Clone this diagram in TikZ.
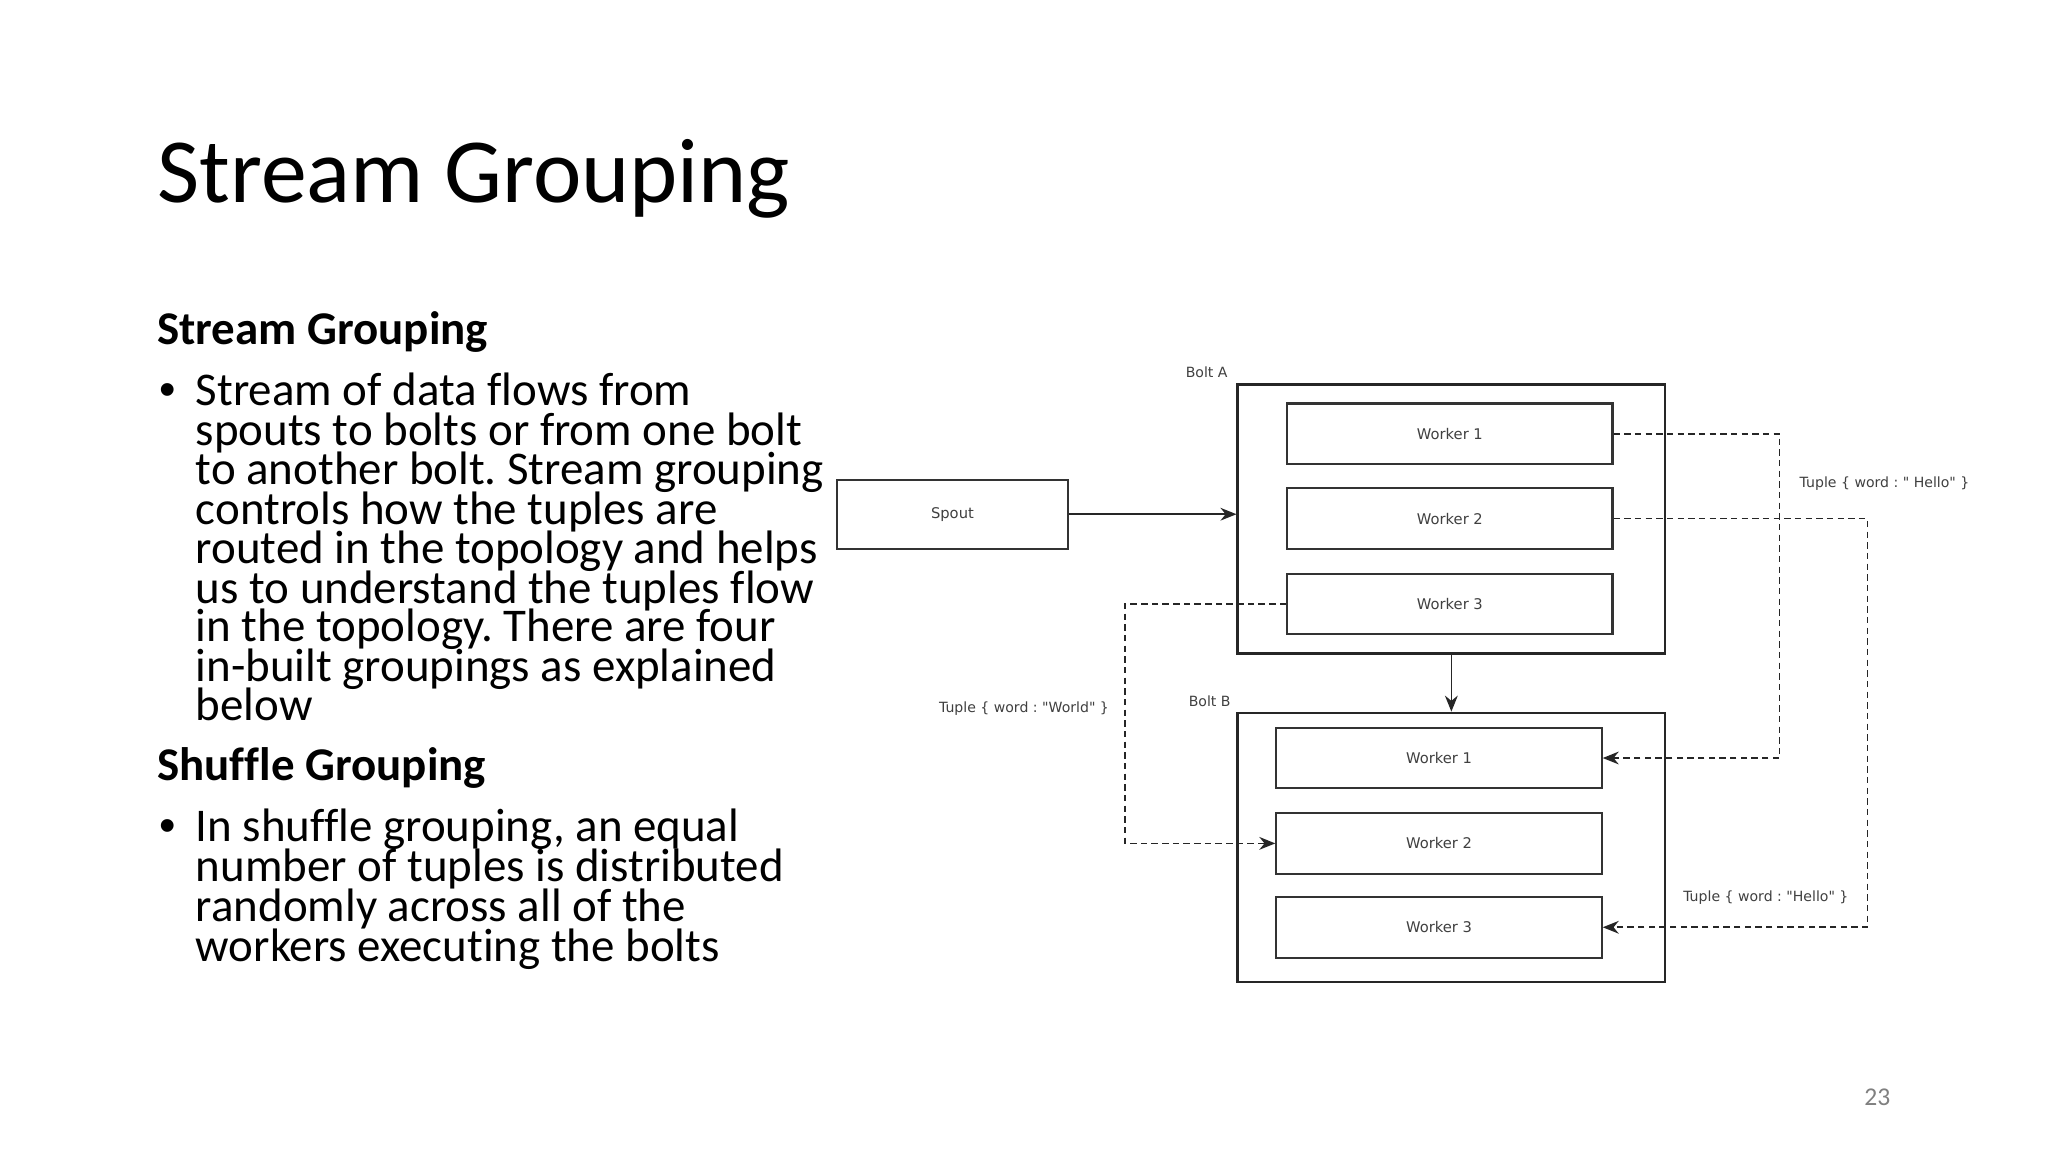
\documentclass[tikz,border=0pt]{standalone}
\usepackage{fontspec}
\setmainfont{Carlito}[Ligatures={NoCommon}]
\newfontfamily\diagfont{DejaVu Sans}
\newfontfamily\bulfont{Liberation Sans}
\usetikzlibrary{arrows.meta}
\frenchspacing
\begin{document}
\begin{tikzpicture}[x=0.46266pt,y=-0.46266pt,
  title/.style={anchor=base west, inner sep=0pt, font=\fontsize{43}{43}\selectfont},
  txt/.style={anchor=base west, inner sep=0pt, font=\fontsize{22}{22}\selectfont},
  head/.style={txt, font=\fontsize{22}{22}\selectfont\bfseries},
  bul/.style={anchor=base west, inner sep=0pt, font=\bulfont\fontsize{22}{22}\selectfont},
  bolt/.style={draw=black!85, line width=1.1pt, inner sep=0pt, minimum width=200.4pt, minimum height=126.1pt},
  worker/.style={draw=black!80, line width=1pt, inner sep=0pt, minimum width=152.5pt, minimum height=28.4pt, font=\diagfont\fontsize{6.9}{7}\selectfont, text=black!75},
  lbl/.style={inner sep=0pt, anchor=west, font=\diagfont\fontsize{6.6}{7}\selectfont, text=black!75},
  flow/.style={draw=black!85, line width=0.75pt, -{Stealth[length=7.5pt,width=6pt]}},
  dflow/.style={flow, dash pattern=on 3pt off 2pt}
]
\useasboundingbox[fill=white] (0,0) rectangle (2075,1167.2);

% Title and text
\node[title] (t) at (159,205) {Stream Grouping};
\node[head] (h1) at (159,349) {Stream Grouping};
\node[bul] (b1) at (161,411) {•};
\node[txt] (l1) at (198,411) {Stream of data flows from};
\node[txt] (l2) at (198,451) {spouts to bolts or from one bolt};
\node[txt] (l3) at (198,491) {to another bolt. Stream grouping};
\node[txt] (l4) at (198,531) {controls how the tuples are};
\node[txt] (l5) at (198,571) {routed in the topology and helps};
\node[txt] (l6) at (198,611) {us to understand the tuples flow};
\node[txt] (l7) at (198,650) {in the topology. There are four};
\node[txt] (l8) at (198,690) {in-built groupings as explained};
\node[txt] (l9) at (198,730) {below};
\node[head] (h2) at (159,791) {Shuffle Grouping};
\node[bul] (b2) at (161,853) {•};
\node[txt] (m1) at (198,853) {In shuffle grouping, an equal};
\node[txt] (m2) at (198,893) {number of tuples is distributed};
\node[txt] (m3) at (198,934) {randomly across all of the};
\node[txt] (m4) at (198,974) {workers executing the bolts};
\node[anchor=base, inner sep=0pt, font=\fontsize{12}{12}\selectfont, text=black!50] (pg) at (1902,1120) {23};

% Diagram
\node[worker, minimum width=108.3pt, minimum height=32.4pt] (spout) at (965,521) {Spout};
\node[bolt] (boltA) at (1470.5,526) {};
\node[lbl] (la) at (1201,377) {Bolt A};
\node[worker] (a1) at (1469,439.5) {Worker 1};
\node[worker] (a2) at (1469,525.5) {Worker 2};
\node[worker] (a3) at (1469,612) {Worker 3};
\node[bolt] (boltB) at (1470.5,858.5) {};
\node[lbl] (lb) at (1204,710) {Bolt B};
\node[worker] (c1) at (1458,768) {Worker 1};
\node[worker] (c2) at (1458,854.5) {Worker 2};
\node[worker] (c3) at (1458,939.5) {Worker 3};

\node[lbl] (tw) at (951,718) {Tuple \{ word : "World" \}};
\node[lbl] (th1) at (1823,490) {Tuple \{ word : " Hello" \}};
\node[lbl] (th2) at (1705,909) {Tuple \{ word : "Hello" \}};

\coordinate (k1) at (1140,612);
\coordinate (k2) at (1803,439.5);
\coordinate (k3) at (1892,525.5);

\draw[flow] (spout.east) -- (spout.east -| boltA.west);
\draw[flow] (boltA.south) -- (boltB.north);
\draw[dflow] (a3.west) -- (k1) |- (c2.west);
\draw[dflow] (a1.east) -- (k2) |- (c1.east);
\draw[dflow] (a2.east) -- (k3) |- (c3.east);
\end{tikzpicture}
\end{document}
